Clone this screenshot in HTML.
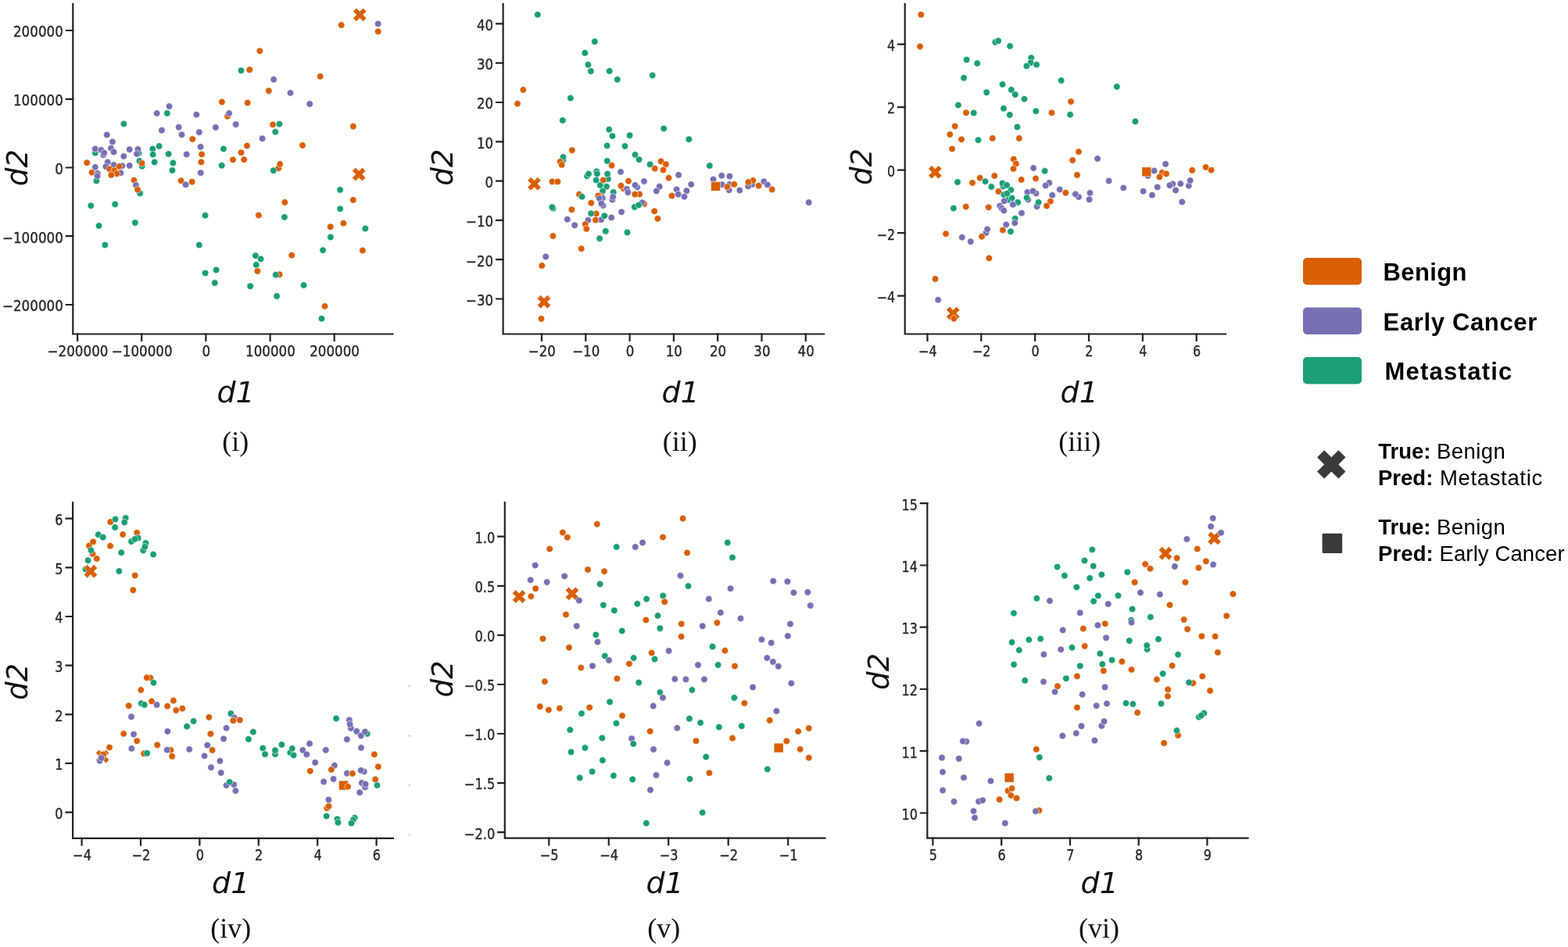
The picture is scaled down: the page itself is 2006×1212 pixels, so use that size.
<!DOCTYPE html>
<html lang="en"><head><meta charset="utf-8"><title>Embedding scatter plots</title>
<style>
html,body{margin:0;padding:0;background:#fff}
body{width:2006px;height:1212px;overflow:hidden}
svg{display:block}
.ax path{stroke:#222;stroke-width:2.2;fill:none;stroke-linecap:square}
.tk text{font-family:"DejaVu Sans","Liberation Sans",sans-serif;font-size:18.8px;fill:#262626;stroke:#262626;stroke-width:0.35px}
.al{font-family:"DejaVu Sans","Liberation Sans",sans-serif;font-style:italic;font-size:38px;fill:#111}
.a2{font-size:37px}
.cap{font-family:"Liberation Serif",serif;font-size:36px;fill:#111}
.pt circle,.pt rect,.pt path{stroke:#fff;stroke-width:0.6}
.lg text{font-family:"Liberation Sans",sans-serif;fill:#000}
.lg .b{font-weight:700}
</style></head>
<body>
<svg width="2006" height="1212" viewBox="0 0 2006 1212">
<g id="p1">
<g class="ax">
<path d="M93.3,5 V427.5 H502.5"/>
<path d="M93.3,39 h-8.5M93.3,126.8 h-8.5M93.3,214.5 h-8.5M93.3,302.2 h-8.5M93.3,390 h-8.5M99.1,427.5 v8.5M181.2,427.5 v8.5M263.4,427.5 v8.5M345.6,427.5 v8.5M427.7,427.5 v8.5"/>
</g>
<g class="tk" text-anchor="end">
<text transform="translate(80.8,47.3) scale(0.89,1)">200000</text>
<text transform="translate(80.8,135.1) scale(0.89,1)">100000</text>
<text transform="translate(80.8,222.8) scale(0.89,1)">0</text>
<text transform="translate(80.8,310.6) scale(0.89,1)">−100000</text>
<text transform="translate(80.8,398.3) scale(0.89,1)">−200000</text>
</g>
<g class="tk" text-anchor="middle">
<text transform="translate(99.5,455.5) scale(0.89,1)">−200000</text>
<text transform="translate(181.7,455.5) scale(0.89,1)">−100000</text>
<text transform="translate(263.8,455.5) scale(0.89,1)">0</text>
<text transform="translate(345.9,455.5) scale(0.89,1)">100000</text>
<text transform="translate(428.1,455.5) scale(0.89,1)">200000</text>
</g>
<text class="al" text-anchor="middle" x="301.6" y="515.2">d1</text>
<text class="al a2" text-anchor="middle" transform="translate(34.8,214.8) rotate(-90)">d2</text>
<text class="cap" text-anchor="middle" x="301.3" y="576.8">(i)</text>
<g class="pt">
<circle cx="283.9" cy="130.5" r="4.25" fill="#d95f02"/>
<circle cx="216.5" cy="136.1" r="4.25" fill="#7570b3"/>
<circle cx="200.7" cy="145" r="4.25" fill="#7570b3"/>
<circle cx="213.8" cy="144.9" r="4.25" fill="#1b9e77"/>
<circle cx="251.4" cy="146.7" r="4.25" fill="#7570b3"/>
<circle cx="291.1" cy="148.8" r="4.25" fill="#d95f02"/>
<circle cx="293.1" cy="145" r="4.25" fill="#7570b3"/>
<circle cx="158.4" cy="158.5" r="4.25" fill="#1b9e77"/>
<circle cx="301.7" cy="159.2" r="4.25" fill="#7570b3"/>
<circle cx="228.7" cy="162.8" r="4.25" fill="#7570b3"/>
<circle cx="275.9" cy="163" r="4.25" fill="#7570b3"/>
<circle cx="206.9" cy="166.8" r="4.25" fill="#7570b3"/>
<circle cx="254.8" cy="169.2" r="4.25" fill="#7570b3"/>
<circle cx="232.5" cy="172.3" r="4.25" fill="#7570b3"/>
<circle cx="136.7" cy="172.6" r="4.25" fill="#7570b3"/>
<circle cx="246.3" cy="178.1" r="4.25" fill="#d95f02"/>
<circle cx="143.9" cy="181.5" r="4.25" fill="#7570b3"/>
<circle cx="203.6" cy="187.1" r="4.25" fill="#1b9e77"/>
<circle cx="256.6" cy="187.9" r="4.25" fill="#7570b3"/>
<circle cx="121.8" cy="195.7" r="4.25" fill="#1b9e77"/>
<circle cx="121.8" cy="190.6" r="4.25" fill="#7570b3"/>
<circle cx="129.4" cy="191.9" r="4.25" fill="#7570b3"/>
<circle cx="132.3" cy="198.2" r="4.25" fill="#7570b3"/>
<circle cx="133.2" cy="195.7" r="4.25" fill="#7570b3"/>
<circle cx="142.1" cy="189.7" r="4.25" fill="#7570b3"/>
<circle cx="145.5" cy="194.4" r="4.25" fill="#7570b3"/>
<circle cx="165.7" cy="191.3" r="4.25" fill="#7570b3"/>
<circle cx="177.5" cy="196" r="4.25" fill="#1b9e77"/>
<circle cx="176.4" cy="191.1" r="4.25" fill="#7570b3"/>
<circle cx="175" cy="196.9" r="4.25" fill="#7570b3"/>
<circle cx="195.3" cy="190.6" r="4.25" fill="#1b9e77"/>
<circle cx="195.6" cy="197.7" r="4.25" fill="#1b9e77"/>
<circle cx="215.6" cy="197.1" r="4.25" fill="#1b9e77"/>
<circle cx="238.7" cy="197.5" r="4.25" fill="#7570b3"/>
<circle cx="258.1" cy="197.5" r="4.25" fill="#d95f02"/>
<circle cx="286" cy="190.6" r="4.25" fill="#1b9e77"/>
<circle cx="158.3" cy="200" r="4.25" fill="#7570b3"/>
<path transform="translate(460.3,18.9)" d="M-4.3,-8.7 0,-4.3 4.3,-8.7 8.7,-4.3 4.3,0 8.7,4.3 4.3,8.7 0,4.3 -4.3,8.7 -8.7,4.3 -4.3,0 -8.7,-4.3Z" fill="#d95f02"/>
<circle cx="436.7" cy="32.1" r="4.25" fill="#d95f02"/>
<circle cx="483.7" cy="30.5" r="4.25" fill="#7570b3"/>
<circle cx="483.7" cy="40.3" r="4.25" fill="#d95f02"/>
<circle cx="332.3" cy="65.2" r="4.25" fill="#d95f02"/>
<circle cx="319.3" cy="89.3" r="4.25" fill="#d95f02"/>
<circle cx="308.5" cy="90.2" r="4.25" fill="#1b9e77"/>
<circle cx="409.7" cy="97.8" r="4.25" fill="#d95f02"/>
<circle cx="350.1" cy="101.7" r="4.25" fill="#7570b3"/>
<circle cx="343.8" cy="116.2" r="4.25" fill="#d95f02"/>
<circle cx="371.5" cy="118.9" r="4.25" fill="#7570b3"/>
<circle cx="316.7" cy="131.6" r="4.25" fill="#d95f02"/>
<circle cx="396.2" cy="133.1" r="4.25" fill="#7570b3"/>
<circle cx="349" cy="159.4" r="4.25" fill="#d95f02"/>
<circle cx="357.4" cy="158.8" r="4.25" fill="#1b9e77"/>
<circle cx="352.3" cy="168.8" r="4.25" fill="#1b9e77"/>
<circle cx="451.9" cy="161.7" r="4.25" fill="#d95f02"/>
<circle cx="335.6" cy="177.3" r="4.25" fill="#7570b3"/>
<circle cx="316" cy="186.6" r="4.25" fill="#d95f02"/>
<circle cx="387" cy="186.1" r="4.25" fill="#d95f02"/>
<circle cx="308.5" cy="195.3" r="4.25" fill="#d95f02"/>
<circle cx="111.2" cy="208.3" r="4.25" fill="#d95f02"/>
<circle cx="137.7" cy="207.6" r="4.25" fill="#7570b3"/>
<circle cx="145.5" cy="211.1" r="4.25" fill="#7570b3"/>
<circle cx="121.8" cy="214" r="4.25" fill="#7570b3"/>
<circle cx="135.4" cy="213.3" r="4.25" fill="#7570b3"/>
<circle cx="156.3" cy="212.3" r="4.25" fill="#7570b3"/>
<circle cx="165.7" cy="212" r="4.25" fill="#7570b3"/>
<circle cx="152.6" cy="212.9" r="4.25" fill="#d95f02"/>
<circle cx="140.1" cy="216.3" r="4.25" fill="#d95f02"/>
<circle cx="154.4" cy="221.2" r="4.25" fill="#7570b3"/>
<circle cx="146.3" cy="218.2" r="4.25" fill="#d95f02"/>
<circle cx="149.4" cy="222.3" r="4.25" fill="#d95f02"/>
<circle cx="142.3" cy="224" r="4.25" fill="#d95f02"/>
<circle cx="117.6" cy="220.7" r="4.25" fill="#d95f02"/>
<circle cx="123.4" cy="231.4" r="4.25" fill="#1b9e77"/>
<circle cx="124.9" cy="222.1" r="4.25" fill="#7570b3"/>
<circle cx="124.5" cy="225.2" r="4.25" fill="#7570b3"/>
<circle cx="178.4" cy="206" r="4.25" fill="#1b9e77"/>
<circle cx="181.7" cy="212.7" r="4.25" fill="#1b9e77"/>
<circle cx="181.5" cy="209.1" r="4.25" fill="#d95f02"/>
<circle cx="197.6" cy="207.6" r="4.25" fill="#1b9e77"/>
<circle cx="221.4" cy="208.5" r="4.25" fill="#1b9e77"/>
<circle cx="220.5" cy="218" r="4.25" fill="#1b9e77"/>
<circle cx="257.4" cy="207.4" r="4.25" fill="#d95f02"/>
<circle cx="256.8" cy="221.2" r="4.25" fill="#7570b3"/>
<circle cx="283.7" cy="211.8" r="4.25" fill="#1b9e77"/>
<circle cx="298" cy="204.4" r="4.25" fill="#d95f02"/>
<circle cx="171.5" cy="230.7" r="4.25" fill="#d95f02"/>
<circle cx="179.1" cy="247.4" r="4.25" fill="#1b9e77"/>
<circle cx="174" cy="237" r="4.25" fill="#7570b3"/>
<circle cx="176" cy="242.7" r="4.25" fill="#d95f02"/>
<circle cx="231.6" cy="231.2" r="4.25" fill="#d95f02"/>
<circle cx="245.6" cy="232.7" r="4.25" fill="#d95f02"/>
<circle cx="237.6" cy="236.3" r="4.25" fill="#7570b3"/>
<circle cx="116.3" cy="263.3" r="4.25" fill="#1b9e77"/>
<circle cx="147.2" cy="261.4" r="4.25" fill="#1b9e77"/>
<circle cx="262.6" cy="275.7" r="4.25" fill="#1b9e77"/>
<circle cx="172.8" cy="285.1" r="4.25" fill="#1b9e77"/>
<circle cx="126.5" cy="288.9" r="4.25" fill="#1b9e77"/>
<circle cx="134.3" cy="313.6" r="4.25" fill="#1b9e77"/>
<circle cx="254.8" cy="313.6" r="4.25" fill="#1b9e77"/>
<circle cx="276.6" cy="345.6" r="4.25" fill="#1b9e77"/>
<circle cx="262.6" cy="349.4" r="4.25" fill="#1b9e77"/>
<circle cx="274.8" cy="362.1" r="4.25" fill="#1b9e77"/>
<circle cx="312.2" cy="204.2" r="4.25" fill="#d95f02"/>
<circle cx="356.3" cy="215.2" r="4.25" fill="#d95f02"/>
<circle cx="358.1" cy="210" r="4.25" fill="#d95f02"/>
<circle cx="349.8" cy="218.2" r="4.25" fill="#1b9e77"/>
<path transform="translate(459.2,223.1)" d="M-4.3,-8.7 0,-4.3 4.3,-8.7 8.7,-4.3 4.3,0 8.7,4.3 4.3,8.7 0,4.3 -4.3,8.7 -8.7,4.3 -4.3,0 -8.7,-4.3Z" fill="#d95f02"/>
<circle cx="435.1" cy="243" r="4.25" fill="#1b9e77"/>
<circle cx="451.8" cy="255.9" r="4.25" fill="#d95f02"/>
<circle cx="364.3" cy="259" r="4.25" fill="#d95f02"/>
<circle cx="435.2" cy="267.3" r="4.25" fill="#1b9e77"/>
<circle cx="330.9" cy="275.5" r="4.25" fill="#d95f02"/>
<circle cx="363.9" cy="277.9" r="4.25" fill="#1b9e77"/>
<circle cx="439.4" cy="285.7" r="4.25" fill="#d95f02"/>
<circle cx="422.7" cy="290.2" r="4.25" fill="#d95f02"/>
<circle cx="467.4" cy="292.6" r="4.25" fill="#1b9e77"/>
<circle cx="422.9" cy="303.5" r="4.25" fill="#1b9e77"/>
<circle cx="413.1" cy="320.3" r="4.25" fill="#1b9e77"/>
<circle cx="463.9" cy="320.5" r="4.25" fill="#d95f02"/>
<circle cx="373.2" cy="326.7" r="4.25" fill="#d95f02"/>
<circle cx="326.9" cy="327.2" r="4.25" fill="#1b9e77"/>
<circle cx="333.6" cy="331.4" r="4.25" fill="#1b9e77"/>
<circle cx="327.8" cy="338.9" r="4.25" fill="#1b9e77"/>
<circle cx="329.4" cy="347" r="4.25" fill="#d95f02"/>
<circle cx="357.6" cy="351.2" r="4.25" fill="#d95f02"/>
<circle cx="352.8" cy="351.7" r="4.25" fill="#1b9e77"/>
<circle cx="320.2" cy="366.3" r="4.25" fill="#1b9e77"/>
<circle cx="388.6" cy="365" r="4.25" fill="#1b9e77"/>
<circle cx="354.1" cy="379" r="4.25" fill="#1b9e77"/>
<circle cx="415.5" cy="391.9" r="4.25" fill="#d95f02"/>
<circle cx="411.5" cy="407.8" r="4.25" fill="#1b9e77"/>
</g>
</g>
<g id="p2">
<g class="ax">
<path d="M643.6,5 V427.5 H1054.1"/>
<path d="M643.6,30.4 h-8.5M643.6,80.7 h-8.5M643.6,131 h-8.5M643.6,181.3 h-8.5M643.6,231.6 h-8.5M643.6,281.9 h-8.5M643.6,332.2 h-8.5M643.6,382.5 h-8.5M693,427.5 v8.5M749.3,427.5 v8.5M805.6,427.5 v8.5M861.9,427.5 v8.5M918.2,427.5 v8.5M974.5,427.5 v8.5M1030.8,427.5 v8.5"/>
</g>
<g class="tk" text-anchor="end">
<text transform="translate(631.1,38.7) scale(0.885,1)">40</text>
<text transform="translate(631.1,89) scale(0.885,1)">30</text>
<text transform="translate(631.1,139.3) scale(0.885,1)">20</text>
<text transform="translate(631.1,189.6) scale(0.885,1)">10</text>
<text transform="translate(631.1,239.9) scale(0.885,1)">0</text>
<text transform="translate(631.1,290.2) scale(0.885,1)">−10</text>
<text transform="translate(631.1,340.5) scale(0.885,1)">−20</text>
<text transform="translate(631.1,390.8) scale(0.885,1)">−30</text>
</g>
<g class="tk" text-anchor="middle">
<text transform="translate(693.4,455.5) scale(0.885,1)">−20</text>
<text transform="translate(749.7,455.5) scale(0.885,1)">−10</text>
<text transform="translate(806,455.5) scale(0.885,1)">0</text>
<text transform="translate(862.3,455.5) scale(0.885,1)">10</text>
<text transform="translate(918.6,455.5) scale(0.885,1)">20</text>
<text transform="translate(974.9,455.5) scale(0.885,1)">30</text>
<text transform="translate(1031.2,455.5) scale(0.885,1)">40</text>
</g>
<text class="al" text-anchor="middle" x="870.6" y="515.2">d1</text>
<text class="al a2" text-anchor="middle" transform="translate(578.8,214.3) rotate(-90)">d2</text>
<text class="cap" text-anchor="middle" x="869.8" y="576.8">(ii)</text>
<g class="pt">
<circle cx="687.8" cy="18.7" r="4.25" fill="#1b9e77"/>
<circle cx="760.8" cy="53.2" r="4.25" fill="#1b9e77"/>
<circle cx="748.3" cy="67.7" r="4.25" fill="#1b9e77"/>
<circle cx="752.4" cy="82.8" r="4.25" fill="#1b9e77"/>
<circle cx="755.9" cy="91.1" r="4.25" fill="#1b9e77"/>
<circle cx="779.7" cy="90.9" r="4.25" fill="#1b9e77"/>
<circle cx="789.8" cy="101.7" r="4.25" fill="#1b9e77"/>
<circle cx="834.7" cy="96.4" r="4.25" fill="#1b9e77"/>
<circle cx="669.3" cy="114.9" r="4.25" fill="#d95f02"/>
<circle cx="662" cy="132.7" r="4.25" fill="#d95f02"/>
<circle cx="729.9" cy="125.6" r="4.25" fill="#1b9e77"/>
<circle cx="719.8" cy="154.1" r="4.25" fill="#1b9e77"/>
<circle cx="779.3" cy="165.7" r="4.25" fill="#1b9e77"/>
<circle cx="783.5" cy="174.1" r="4.25" fill="#1b9e77"/>
<circle cx="805.6" cy="173.3" r="4.25" fill="#1b9e77"/>
<circle cx="849.2" cy="164.6" r="4.25" fill="#1b9e77"/>
<circle cx="776.6" cy="186.4" r="4.25" fill="#1b9e77"/>
<circle cx="799.5" cy="187.1" r="4.25" fill="#1b9e77"/>
<circle cx="731.9" cy="192.2" r="4.25" fill="#d95f02"/>
<circle cx="812.5" cy="198" r="4.25" fill="#1b9e77"/>
<circle cx="817.6" cy="204.2" r="4.25" fill="#1b9e77"/>
<circle cx="720.3" cy="205.1" r="4.25" fill="#1b9e77"/>
<circle cx="720.5" cy="201.1" r="4.25" fill="#1b9e77"/>
<circle cx="716.7" cy="206.9" r="4.25" fill="#d95f02"/>
<circle cx="776.8" cy="206" r="4.25" fill="#1b9e77"/>
<circle cx="845.6" cy="206.4" r="4.25" fill="#d95f02"/>
<circle cx="718.7" cy="211" r="4.25" fill="#d95f02"/>
<circle cx="782.6" cy="211.7" r="4.25" fill="#d95f02"/>
<circle cx="831.6" cy="210.4" r="4.25" fill="#1b9e77"/>
<circle cx="851.9" cy="210.3" r="4.25" fill="#d95f02"/>
<circle cx="837.8" cy="215.7" r="4.25" fill="#d95f02"/>
<circle cx="848.5" cy="217.5" r="4.25" fill="#d95f02"/>
<circle cx="794" cy="219.9" r="4.25" fill="#7570b3"/>
<circle cx="751.2" cy="225.3" r="4.25" fill="#1b9e77"/>
<circle cx="753" cy="222.6" r="4.25" fill="#1b9e77"/>
<circle cx="763.3" cy="219.5" r="4.25" fill="#1b9e77"/>
<circle cx="763.9" cy="222.6" r="4.25" fill="#1b9e77"/>
<circle cx="777.9" cy="229.1" r="4.25" fill="#1b9e77"/>
<circle cx="777.1" cy="222.6" r="4.25" fill="#1b9e77"/>
<circle cx="762.6" cy="230.6" r="4.25" fill="#1b9e77"/>
<circle cx="771.7" cy="230.6" r="4.25" fill="#d95f02"/>
<circle cx="767.9" cy="237.1" r="4.25" fill="#1b9e77"/>
<circle cx="776" cy="238.8" r="4.25" fill="#1b9e77"/>
<circle cx="771.1" cy="244.6" r="4.25" fill="#1b9e77"/>
<circle cx="784.8" cy="246" r="4.25" fill="#1b9e77"/>
<path transform="translate(683.5,235.3)" d="M-4.3,-8.7 0,-4.3 4.3,-8.7 8.7,-4.3 4.3,0 8.7,4.3 4.3,8.7 0,4.3 -4.3,8.7 -8.7,4.3 -4.3,0 -8.7,-4.3Z" fill="#d95f02"/>
<circle cx="706.5" cy="232.4" r="4.25" fill="#d95f02"/>
<circle cx="713.4" cy="232.6" r="4.25" fill="#d95f02"/>
<circle cx="804" cy="231.7" r="4.25" fill="#d95f02"/>
<circle cx="824" cy="232" r="4.25" fill="#7570b3"/>
<circle cx="797.8" cy="241.5" r="4.25" fill="#d95f02"/>
<circle cx="794.4" cy="237.7" r="4.25" fill="#d95f02"/>
<circle cx="815.2" cy="239.5" r="4.25" fill="#7570b3"/>
<circle cx="812.5" cy="236.9" r="4.25" fill="#7570b3"/>
<circle cx="802" cy="242" r="4.25" fill="#7570b3"/>
<circle cx="803.4" cy="246.2" r="4.25" fill="#7570b3"/>
<circle cx="818" cy="248.6" r="4.25" fill="#d95f02"/>
<circle cx="812.2" cy="248.7" r="4.25" fill="#d95f02"/>
<circle cx="843.6" cy="238.8" r="4.25" fill="#7570b3"/>
<circle cx="839.8" cy="244.6" r="4.25" fill="#7570b3"/>
<circle cx="741" cy="248.7" r="4.25" fill="#d95f02"/>
<circle cx="744.6" cy="251.7" r="4.25" fill="#1b9e77"/>
<circle cx="769.3" cy="251.3" r="4.25" fill="#d95f02"/>
<circle cx="765.3" cy="250.4" r="4.25" fill="#d95f02"/>
<circle cx="770.8" cy="253.6" r="4.25" fill="#7570b3"/>
<circle cx="766.8" cy="254" r="4.25" fill="#7570b3"/>
<circle cx="783.5" cy="255.6" r="4.25" fill="#7570b3"/>
<circle cx="784.2" cy="252" r="4.25" fill="#7570b3"/>
<circle cx="756.3" cy="259.8" r="4.25" fill="#d95f02"/>
<circle cx="771.5" cy="263.1" r="4.25" fill="#7570b3"/>
<circle cx="769.3" cy="260.5" r="4.25" fill="#7570b3"/>
<circle cx="824.1" cy="260.9" r="4.25" fill="#d95f02"/>
<circle cx="821.6" cy="259.3" r="4.25" fill="#7570b3"/>
<circle cx="811.8" cy="264.9" r="4.25" fill="#1b9e77"/>
<circle cx="817.1" cy="262.4" r="4.25" fill="#1b9e77"/>
<circle cx="707.6" cy="266.7" r="4.25" fill="#1b9e77"/>
<circle cx="706.3" cy="265.1" r="4.25" fill="#1b9e77"/>
<circle cx="731.4" cy="268.3" r="4.25" fill="#d95f02"/>
<circle cx="795.1" cy="271.3" r="4.25" fill="#7570b3"/>
<circle cx="837.2" cy="270.3" r="4.25" fill="#d95f02"/>
<circle cx="841.4" cy="279.8" r="4.25" fill="#d95f02"/>
<circle cx="762.8" cy="273.4" r="4.25" fill="#d95f02"/>
<circle cx="756.1" cy="273.3" r="4.25" fill="#1b9e77"/>
<circle cx="769" cy="281.2" r="4.25" fill="#7570b3"/>
<circle cx="773.3" cy="276.3" r="4.25" fill="#1b9e77"/>
<circle cx="782.2" cy="278.5" r="4.25" fill="#7570b3"/>
<circle cx="761.9" cy="281.6" r="4.25" fill="#d95f02"/>
<circle cx="752.4" cy="281.8" r="4.25" fill="#7570b3"/>
<circle cx="725.8" cy="280.7" r="4.25" fill="#7570b3"/>
<circle cx="735.2" cy="288.3" r="4.25" fill="#7570b3"/>
<circle cx="748.8" cy="286.9" r="4.25" fill="#d95f02"/>
<circle cx="750.3" cy="292.9" r="4.25" fill="#d95f02"/>
<circle cx="774.8" cy="295.9" r="4.25" fill="#1b9e77"/>
<circle cx="802.5" cy="297.4" r="4.25" fill="#1b9e77"/>
<circle cx="767.1" cy="305.2" r="4.25" fill="#1b9e77"/>
<circle cx="707.4" cy="302.1" r="4.25" fill="#d95f02"/>
<circle cx="743.7" cy="318.3" r="4.25" fill="#d95f02"/>
<circle cx="698.2" cy="328.6" r="4.25" fill="#7570b3"/>
<circle cx="693.3" cy="339.9" r="4.25" fill="#d95f02"/>
<path transform="translate(696,386.3)" d="M-4.3,-8.7 0,-4.3 4.3,-8.7 8.7,-4.3 4.3,0 8.7,4.3 4.3,8.7 0,4.3 -4.3,8.7 -8.7,4.3 -4.3,0 -8.7,-4.3Z" fill="#d95f02"/>
<circle cx="692.5" cy="407.9" r="4.25" fill="#d95f02"/>
<circle cx="881.3" cy="178.3" r="4.25" fill="#1b9e77"/>
<circle cx="907.8" cy="212.1" r="4.25" fill="#1b9e77"/>
<circle cx="855.5" cy="227.7" r="4.25" fill="#d95f02"/>
<circle cx="868.1" cy="223.9" r="4.25" fill="#7570b3"/>
<circle cx="884.2" cy="236" r="4.25" fill="#7570b3"/>
<circle cx="865.7" cy="242.6" r="4.25" fill="#7570b3"/>
<circle cx="878.4" cy="244.2" r="4.25" fill="#7570b3"/>
<circle cx="867.7" cy="248.7" r="4.25" fill="#7570b3"/>
<circle cx="859.5" cy="250.6" r="4.25" fill="#d95f02"/>
<circle cx="875.5" cy="251.8" r="4.25" fill="#7570b3"/>
<circle cx="912.5" cy="229.5" r="4.25" fill="#7570b3"/>
<circle cx="923.3" cy="224.8" r="4.25" fill="#7570b3"/>
<circle cx="933.4" cy="225.5" r="4.25" fill="#7570b3"/>
<circle cx="923.6" cy="236.2" r="4.25" fill="#7570b3"/>
<circle cx="933.4" cy="235.9" r="4.25" fill="#7570b3"/>
<rect x="909.6" y="232.4" width="12" height="12" fill="#d95f02"/>
<circle cx="939.2" cy="235.9" r="4.25" fill="#d95f02"/>
<circle cx="932.7" cy="243.3" r="4.25" fill="#7570b3"/>
<circle cx="930.3" cy="239.1" r="4.25" fill="#d95f02"/>
<circle cx="946.3" cy="243.5" r="4.25" fill="#7570b3"/>
<circle cx="962.5" cy="235.9" r="4.25" fill="#7570b3"/>
<circle cx="957.2" cy="238.4" r="4.25" fill="#7570b3"/>
<circle cx="963.4" cy="231" r="4.25" fill="#d95f02"/>
<circle cx="957.4" cy="233.1" r="4.25" fill="#d95f02"/>
<circle cx="970.6" cy="237.7" r="4.25" fill="#d95f02"/>
<circle cx="977.3" cy="232.2" r="4.25" fill="#7570b3"/>
<circle cx="981.9" cy="236.4" r="4.25" fill="#7570b3"/>
<circle cx="987.7" cy="242.4" r="4.25" fill="#d95f02"/>
<circle cx="1034.7" cy="259.1" r="4.25" fill="#7570b3"/>
</g>
</g>
<g id="p3">
<g class="ax">
<path d="M1157.7,5 V427.5 H1568"/>
<path d="M1157.7,56.6 h-8.5M1157.7,137.1 h-8.5M1157.7,217.6 h-8.5M1157.7,298.2 h-8.5M1157.7,378.7 h-8.5M1186.5,427.5 v8.5M1255.3,427.5 v8.5M1324.2,427.5 v8.5M1393,427.5 v8.5M1461.9,427.5 v8.5M1530.7,427.5 v8.5"/>
</g>
<g class="tk" text-anchor="end">
<text transform="translate(1145.2,64.9) scale(0.85,1)">4</text>
<text transform="translate(1145.2,145.4) scale(0.85,1)">2</text>
<text transform="translate(1145.2,225.9) scale(0.85,1)">0</text>
<text transform="translate(1145.2,306.5) scale(0.85,1)">−2</text>
<text transform="translate(1145.2,387) scale(0.85,1)">−4</text>
</g>
<g class="tk" text-anchor="middle">
<text transform="translate(1186.9,455.5) scale(0.85,1)">−4</text>
<text transform="translate(1255.7,455.5) scale(0.85,1)">−2</text>
<text transform="translate(1324.6,455.5) scale(0.85,1)">0</text>
<text transform="translate(1393.4,455.5) scale(0.85,1)">2</text>
<text transform="translate(1462.3,455.5) scale(0.85,1)">4</text>
<text transform="translate(1531.1,455.5) scale(0.85,1)">6</text>
</g>
<text class="al" text-anchor="middle" x="1380.7" y="515.2">d1</text>
<text class="al a2" text-anchor="middle" transform="translate(1114.7,213.5) rotate(-90)">d2</text>
<text class="cap" text-anchor="middle" x="1381.3" y="576.8">(iii)</text>
<g class="pt">
<circle cx="1178.3" cy="18.7" r="4.25" fill="#d95f02"/>
<circle cx="1177" cy="59.5" r="4.25" fill="#d95f02"/>
<circle cx="1273.3" cy="53.9" r="4.25" fill="#1b9e77"/>
<circle cx="1277.1" cy="52.3" r="4.25" fill="#1b9e77"/>
<circle cx="1292.1" cy="59" r="4.25" fill="#1b9e77"/>
<circle cx="1236.6" cy="76.4" r="4.25" fill="#1b9e77"/>
<circle cx="1250.2" cy="81" r="4.25" fill="#1b9e77"/>
<circle cx="1319.2" cy="74.1" r="4.25" fill="#1b9e77"/>
<circle cx="1318.6" cy="80.2" r="4.25" fill="#1b9e77"/>
<circle cx="1326.1" cy="82.8" r="4.25" fill="#1b9e77"/>
<circle cx="1313.4" cy="84.6" r="4.25" fill="#1b9e77"/>
<circle cx="1233" cy="99.7" r="4.25" fill="#1b9e77"/>
<circle cx="1357.7" cy="103.1" r="4.25" fill="#1b9e77"/>
<circle cx="1282.5" cy="108" r="4.25" fill="#1b9e77"/>
<circle cx="1293.8" cy="114.9" r="4.25" fill="#1b9e77"/>
<circle cx="1262.2" cy="118.3" r="4.25" fill="#1b9e77"/>
<circle cx="1298.8" cy="121.1" r="4.25" fill="#1b9e77"/>
<circle cx="1310.5" cy="126.7" r="4.25" fill="#1b9e77"/>
<circle cx="1225.9" cy="134.5" r="4.25" fill="#1b9e77"/>
<circle cx="1284" cy="138.7" r="4.25" fill="#1b9e77"/>
<circle cx="1236" cy="144.3" r="4.25" fill="#d95f02"/>
<circle cx="1245.7" cy="144.5" r="4.25" fill="#1b9e77"/>
<circle cx="1291.8" cy="147" r="4.25" fill="#1b9e77"/>
<circle cx="1325.3" cy="142.3" r="4.25" fill="#1b9e77"/>
<circle cx="1345.5" cy="144.3" r="4.25" fill="#d95f02"/>
<circle cx="1221.7" cy="161.6" r="4.25" fill="#d95f02"/>
<circle cx="1301.4" cy="162.6" r="4.25" fill="#1b9e77"/>
<circle cx="1215.3" cy="172.1" r="4.25" fill="#d95f02"/>
<circle cx="1230" cy="178.4" r="4.25" fill="#d95f02"/>
<circle cx="1251.5" cy="179.2" r="4.25" fill="#1b9e77"/>
<circle cx="1269.8" cy="177" r="4.25" fill="#d95f02"/>
<circle cx="1303.9" cy="177" r="4.25" fill="#d95f02"/>
<circle cx="1218.1" cy="190.6" r="4.25" fill="#d95f02"/>
<circle cx="1296.8" cy="203.7" r="4.25" fill="#d95f02"/>
<circle cx="1299.8" cy="209.5" r="4.25" fill="#d95f02"/>
<circle cx="1296.5" cy="215.9" r="4.25" fill="#d95f02"/>
<circle cx="1322.1" cy="215" r="4.25" fill="#7570b3"/>
<circle cx="1336.6" cy="218.8" r="4.25" fill="#1b9e77"/>
<path transform="translate(1196.3,220.4)" d="M-4.3,-8.7 0,-4.3 4.3,-8.7 8.7,-4.3 4.3,0 8.7,4.3 4.3,8.7 0,4.3 -4.3,8.7 -8.7,4.3 -4.3,0 -8.7,-4.3Z" fill="#d95f02"/>
<circle cx="1272.3" cy="225" r="4.25" fill="#d95f02"/>
<circle cx="1253.6" cy="227.7" r="4.25" fill="#d95f02"/>
<circle cx="1306.7" cy="229.9" r="4.25" fill="#d95f02"/>
<circle cx="1325" cy="228.6" r="4.25" fill="#d95f02"/>
<circle cx="1225" cy="233.1" r="4.25" fill="#1b9e77"/>
<circle cx="1244" cy="234" r="4.25" fill="#d95f02"/>
<circle cx="1260.5" cy="232.2" r="4.25" fill="#1b9e77"/>
<circle cx="1268.3" cy="238.9" r="4.25" fill="#1b9e77"/>
<circle cx="1283.4" cy="238.6" r="4.25" fill="#1b9e77"/>
<circle cx="1282.5" cy="234.6" r="4.25" fill="#1b9e77"/>
<circle cx="1288" cy="236.9" r="4.25" fill="#1b9e77"/>
<circle cx="1293.4" cy="243.1" r="4.25" fill="#1b9e77"/>
<circle cx="1277.4" cy="245.1" r="4.25" fill="#d95f02"/>
<circle cx="1284.3" cy="249.1" r="4.25" fill="#1b9e77"/>
<circle cx="1288.3" cy="247.7" r="4.25" fill="#1b9e77"/>
<circle cx="1289.8" cy="255.8" r="4.25" fill="#1b9e77"/>
<circle cx="1294.7" cy="253.6" r="4.25" fill="#1b9e77"/>
<circle cx="1302.1" cy="258.9" r="4.25" fill="#1b9e77"/>
<circle cx="1284.7" cy="257.3" r="4.25" fill="#7570b3"/>
<circle cx="1295.8" cy="261.8" r="4.25" fill="#7570b3"/>
<circle cx="1279.2" cy="263.4" r="4.25" fill="#7570b3"/>
<circle cx="1281.6" cy="266.7" r="4.25" fill="#7570b3"/>
<circle cx="1284.3" cy="269.6" r="4.25" fill="#7570b3"/>
<circle cx="1342.4" cy="234" r="4.25" fill="#7570b3"/>
<circle cx="1337.7" cy="237.5" r="4.25" fill="#7570b3"/>
<circle cx="1355.7" cy="242.6" r="4.25" fill="#7570b3"/>
<circle cx="1363.3" cy="246.7" r="4.25" fill="#d95f02"/>
<circle cx="1314.3" cy="246" r="4.25" fill="#7570b3"/>
<circle cx="1325.5" cy="247.5" r="4.25" fill="#7570b3"/>
<circle cx="1321.5" cy="244.6" r="4.25" fill="#7570b3"/>
<circle cx="1346.2" cy="249.8" r="4.25" fill="#7570b3"/>
<circle cx="1315.2" cy="255.5" r="4.25" fill="#7570b3"/>
<circle cx="1313.5" cy="253.1" r="4.25" fill="#1b9e77"/>
<circle cx="1326.6" cy="264.2" r="4.25" fill="#7570b3"/>
<circle cx="1328.6" cy="258.9" r="4.25" fill="#1b9e77"/>
<circle cx="1343.9" cy="257.8" r="4.25" fill="#d95f02"/>
<circle cx="1339.1" cy="263.6" r="4.25" fill="#d95f02"/>
<circle cx="1219.9" cy="266.5" r="4.25" fill="#1b9e77"/>
<circle cx="1235.7" cy="264.5" r="4.25" fill="#d95f02"/>
<circle cx="1264.7" cy="265.3" r="4.25" fill="#d95f02"/>
<circle cx="1307" cy="272.7" r="4.25" fill="#7570b3"/>
<circle cx="1298.7" cy="279.8" r="4.25" fill="#1b9e77"/>
<circle cx="1298.3" cy="285.2" r="4.25" fill="#7570b3"/>
<circle cx="1287.2" cy="287.6" r="4.25" fill="#7570b3"/>
<circle cx="1282.9" cy="294.5" r="4.25" fill="#d95f02"/>
<circle cx="1292.9" cy="296.3" r="4.25" fill="#1b9e77"/>
<circle cx="1261.5" cy="297.9" r="4.25" fill="#7570b3"/>
<circle cx="1263.1" cy="293.4" r="4.25" fill="#7570b3"/>
<circle cx="1256" cy="302.7" r="4.25" fill="#d95f02"/>
<circle cx="1210.1" cy="299.2" r="4.25" fill="#d95f02"/>
<circle cx="1230.8" cy="303.7" r="4.25" fill="#7570b3"/>
<circle cx="1241.8" cy="309.2" r="4.25" fill="#7570b3"/>
<circle cx="1265.3" cy="330.4" r="4.25" fill="#d95f02"/>
<circle cx="1196.5" cy="356.9" r="4.25" fill="#d95f02"/>
<circle cx="1200.1" cy="383.8" r="4.25" fill="#7570b3"/>
<path transform="translate(1219.3,401)" d="M-4.3,-8.7 0,-4.3 4.3,-8.7 8.7,-4.3 4.3,0 8.7,4.3 4.3,8.7 0,4.3 -4.3,8.7 -8.7,4.3 -4.3,0 -8.7,-4.3Z" fill="#d95f02"/>
<circle cx="1220.4" cy="407.8" r="4.25" fill="#d95f02"/>
<circle cx="1428.8" cy="110.9" r="4.25" fill="#1b9e77"/>
<circle cx="1370" cy="130.1" r="4.25" fill="#d95f02"/>
<circle cx="1369.1" cy="146.7" r="4.25" fill="#1b9e77"/>
<circle cx="1452.4" cy="155.4" r="4.25" fill="#1b9e77"/>
<circle cx="1380" cy="194.2" r="4.25" fill="#d95f02"/>
<circle cx="1372.2" cy="205.1" r="4.25" fill="#d95f02"/>
<circle cx="1404.1" cy="203.1" r="4.25" fill="#7570b3"/>
<circle cx="1491.1" cy="209.9" r="4.25" fill="#7570b3"/>
<circle cx="1468.6" cy="225" r="4.25" fill="#7570b3"/>
<circle cx="1476.6" cy="218.6" r="4.25" fill="#7570b3"/>
<rect x="1460.9" y="213.9" width="12" height="12" fill="#d95f02"/>
<circle cx="1486.7" cy="221" r="4.25" fill="#d95f02"/>
<circle cx="1492" cy="222.4" r="4.25" fill="#d95f02"/>
<circle cx="1483.4" cy="226.4" r="4.25" fill="#d95f02"/>
<circle cx="1525.2" cy="217.9" r="4.25" fill="#d95f02"/>
<circle cx="1542.6" cy="214.1" r="4.25" fill="#d95f02"/>
<circle cx="1549.7" cy="217.7" r="4.25" fill="#d95f02"/>
<circle cx="1378" cy="223.9" r="4.25" fill="#d95f02"/>
<circle cx="1418.6" cy="231.5" r="4.25" fill="#7570b3"/>
<circle cx="1437.3" cy="240.4" r="4.25" fill="#7570b3"/>
<circle cx="1520.8" cy="237.7" r="4.25" fill="#7570b3"/>
<circle cx="1522.7" cy="231" r="4.25" fill="#7570b3"/>
<circle cx="1510.3" cy="235.1" r="4.25" fill="#7570b3"/>
<circle cx="1500.3" cy="235.5" r="4.25" fill="#7570b3"/>
<circle cx="1496.5" cy="237.3" r="4.25" fill="#7570b3"/>
<circle cx="1504.1" cy="243.5" r="4.25" fill="#7570b3"/>
<circle cx="1480.7" cy="239.5" r="4.25" fill="#7570b3"/>
<circle cx="1462.6" cy="244.8" r="4.25" fill="#7570b3"/>
<circle cx="1474" cy="249.7" r="4.25" fill="#7570b3"/>
<circle cx="1512.3" cy="258.5" r="4.25" fill="#7570b3"/>
<circle cx="1394.5" cy="246.9" r="4.25" fill="#7570b3"/>
<circle cx="1380" cy="252" r="4.25" fill="#7570b3"/>
<circle cx="1375.8" cy="248.4" r="4.25" fill="#7570b3"/>
<circle cx="1393.6" cy="255.3" r="4.25" fill="#7570b3"/>
</g>
</g>
<g id="p4">
<g class="ax">
<path d="M93.1,643 V1072.8 H502.9"/>
<path d="M93.1,663.7 h-8.5M93.1,726.4 h-8.5M93.1,789 h-8.5M93.1,851.6 h-8.5M93.1,914.3 h-8.5M93.1,976.9 h-8.5M93.1,1039.6 h-8.5M104.6,1072.8 v8.5M180,1072.8 v8.5M255.4,1072.8 v8.5M330.8,1072.8 v8.5M406.2,1072.8 v8.5M481.6,1072.8 v8.5"/>
</g>
<g class="tk" text-anchor="end">
<text transform="translate(80.6,672) scale(0.86,1)">6</text>
<text transform="translate(80.6,734.6) scale(0.86,1)">5</text>
<text transform="translate(80.6,797.3) scale(0.86,1)">4</text>
<text transform="translate(80.6,859.9) scale(0.86,1)">3</text>
<text transform="translate(80.6,922.6) scale(0.86,1)">2</text>
<text transform="translate(80.6,985.2) scale(0.86,1)">1</text>
<text transform="translate(80.6,1047.9) scale(0.86,1)">0</text>
</g>
<g class="tk" text-anchor="middle">
<text transform="translate(105,1100.8) scale(0.86,1)">−4</text>
<text transform="translate(180.4,1100.8) scale(0.86,1)">−2</text>
<text transform="translate(255.8,1100.8) scale(0.86,1)">0</text>
<text transform="translate(331.2,1100.8) scale(0.86,1)">2</text>
<text transform="translate(406.6,1100.8) scale(0.86,1)">4</text>
<text transform="translate(482,1100.8) scale(0.86,1)">6</text>
</g>
<text class="al" text-anchor="middle" x="295.2" y="1143.4">d1</text>
<text class="al a2" text-anchor="middle" transform="translate(34.8,872.5) rotate(-90)">d2</text>
<text class="cap" text-anchor="middle" x="295.2" y="1200">(iv)</text>
<g class="pt">
<circle cx="141.3" cy="667.9" r="4.25" fill="#d95f02"/>
<circle cx="147.6" cy="664.6" r="4.25" fill="#1b9e77"/>
<circle cx="160.7" cy="663.1" r="4.25" fill="#1b9e77"/>
<circle cx="159.2" cy="668.6" r="4.25" fill="#1b9e77"/>
<circle cx="147.1" cy="674.9" r="4.25" fill="#1b9e77"/>
<circle cx="125.7" cy="684.2" r="4.25" fill="#1b9e77"/>
<circle cx="131.7" cy="687.6" r="4.25" fill="#1b9e77"/>
<circle cx="157.1" cy="684" r="4.25" fill="#d95f02"/>
<circle cx="175.2" cy="681.8" r="4.25" fill="#d95f02"/>
<circle cx="176.7" cy="688.5" r="4.25" fill="#1b9e77"/>
<circle cx="168" cy="693.1" r="4.25" fill="#1b9e77"/>
<circle cx="172.5" cy="690" r="4.25" fill="#1b9e77"/>
<circle cx="114" cy="698.5" r="4.25" fill="#d95f02"/>
<circle cx="119.1" cy="693.4" r="4.25" fill="#d95f02"/>
<circle cx="141.1" cy="698.7" r="4.25" fill="#d95f02"/>
<circle cx="186.5" cy="695.1" r="4.25" fill="#1b9e77"/>
<circle cx="183.2" cy="704.5" r="4.25" fill="#1b9e77"/>
<circle cx="185.4" cy="699.8" r="4.25" fill="#1b9e77"/>
<circle cx="118.6" cy="708.9" r="4.25" fill="#d95f02"/>
<circle cx="116.4" cy="704.3" r="4.25" fill="#1b9e77"/>
<circle cx="155.2" cy="707.2" r="4.25" fill="#1b9e77"/>
<circle cx="196.1" cy="709.6" r="4.25" fill="#1b9e77"/>
<circle cx="123.8" cy="715" r="4.25" fill="#d95f02"/>
<circle cx="112.6" cy="717.2" r="4.25" fill="#1b9e77"/>
<circle cx="109.5" cy="728.5" r="4.25" fill="#1b9e77"/>
<path transform="translate(115.9,731.2)" d="M-4.3,-8.7 0,-4.3 4.3,-8.7 8.7,-4.3 4.3,0 8.7,4.3 4.3,8.7 0,4.3 -4.3,8.7 -8.7,4.3 -4.3,0 -8.7,-4.3Z" fill="#d95f02"/>
<circle cx="152.3" cy="731" r="4.25" fill="#1b9e77"/>
<circle cx="172.7" cy="736.5" r="4.25" fill="#d95f02"/>
<circle cx="170.3" cy="755.2" r="4.25" fill="#d95f02"/>
<circle cx="192.5" cy="867.7" r="4.25" fill="#d95f02"/>
<circle cx="187.9" cy="867.3" r="4.25" fill="#d95f02"/>
<circle cx="196.5" cy="873.7" r="4.25" fill="#1b9e77"/>
<circle cx="180.3" cy="883" r="4.25" fill="#d95f02"/>
<circle cx="194.1" cy="897.5" r="4.25" fill="#d95f02"/>
<circle cx="180.7" cy="900.2" r="4.25" fill="#1b9e77"/>
<circle cx="184.8" cy="902" r="4.25" fill="#1b9e77"/>
<circle cx="200.6" cy="902" r="4.25" fill="#7570b3"/>
<circle cx="164.7" cy="903.3" r="4.25" fill="#d95f02"/>
<circle cx="221.9" cy="896.7" r="4.25" fill="#d95f02"/>
<circle cx="214.1" cy="903.8" r="4.25" fill="#d95f02"/>
<circle cx="233.3" cy="906.7" r="4.25" fill="#d95f02"/>
<circle cx="225.3" cy="909.1" r="4.25" fill="#d95f02"/>
<circle cx="168" cy="917.3" r="4.25" fill="#7570b3"/>
<circle cx="295.4" cy="913.3" r="4.25" fill="#1b9e77"/>
<circle cx="299.7" cy="918.5" r="4.25" fill="#7570b3"/>
<circle cx="298.3" cy="922.2" r="4.25" fill="#d95f02"/>
<circle cx="267.4" cy="918" r="4.25" fill="#d95f02"/>
<circle cx="247.6" cy="922.9" r="4.25" fill="#1b9e77"/>
<circle cx="239.1" cy="929.8" r="4.25" fill="#1b9e77"/>
<circle cx="289.6" cy="931.8" r="4.25" fill="#7570b3"/>
<circle cx="214.4" cy="936.1" r="4.25" fill="#7570b3"/>
<circle cx="158.2" cy="939" r="4.25" fill="#d95f02"/>
<circle cx="171" cy="939.8" r="4.25" fill="#7570b3"/>
<circle cx="269.4" cy="939.2" r="4.25" fill="#d95f02"/>
<circle cx="286.1" cy="945.6" r="4.25" fill="#7570b3"/>
<circle cx="175.2" cy="948.3" r="4.25" fill="#d95f02"/>
<circle cx="201.2" cy="953.4" r="4.25" fill="#d95f02"/>
<circle cx="265.2" cy="953.7" r="4.25" fill="#7570b3"/>
<circle cx="140" cy="956.5" r="4.25" fill="#d95f02"/>
<circle cx="168.3" cy="957.9" r="4.25" fill="#7570b3"/>
<circle cx="218.4" cy="959.9" r="4.25" fill="#d95f02"/>
<circle cx="213.7" cy="959.7" r="4.25" fill="#7570b3"/>
<circle cx="242.2" cy="959" r="4.25" fill="#7570b3"/>
<circle cx="271.6" cy="960.1" r="4.25" fill="#d95f02"/>
<circle cx="184.1" cy="964.5" r="4.25" fill="#d95f02"/>
<circle cx="188.1" cy="963.9" r="4.25" fill="#1b9e77"/>
<circle cx="220.2" cy="967.9" r="4.25" fill="#d95f02"/>
<circle cx="261.6" cy="967.4" r="4.25" fill="#7570b3"/>
<path transform="translate(131.1,968.1)" d="M-4.3,-8.7 0,-4.3 4.3,-8.7 8.7,-4.3 4.3,0 8.7,4.3 4.3,8.7 0,4.3 -4.3,8.7 -8.7,4.3 -4.3,0 -8.7,-4.3Z" fill="#d95f02"/>
<circle cx="132.2" cy="965.4" r="4.25" fill="#d95f02"/>
<circle cx="127.7" cy="973.7" r="4.25" fill="#7570b3"/>
<circle cx="129.7" cy="970.1" r="4.25" fill="#7570b3"/>
<circle cx="281.4" cy="973.9" r="4.25" fill="#7570b3"/>
<circle cx="270" cy="982.2" r="4.25" fill="#7570b3"/>
<circle cx="282.7" cy="989.1" r="4.25" fill="#7570b3"/>
<circle cx="289.6" cy="1005.1" r="4.25" fill="#7570b3"/>
<circle cx="299.2" cy="1004.2" r="4.25" fill="#7570b3"/>
<circle cx="293.7" cy="1000.9" r="4.25" fill="#1b9e77"/>
<circle cx="301.4" cy="1012" r="4.25" fill="#7570b3"/>
<circle cx="306.8" cy="921.6" r="4.25" fill="#d95f02"/>
<circle cx="323.9" cy="936.7" r="4.25" fill="#1b9e77"/>
<circle cx="317.9" cy="946.1" r="4.25" fill="#1b9e77"/>
<circle cx="360.4" cy="953" r="4.25" fill="#1b9e77"/>
<circle cx="336.2" cy="957.6" r="4.25" fill="#1b9e77"/>
<circle cx="339.1" cy="965.2" r="4.25" fill="#1b9e77"/>
<circle cx="352" cy="965.2" r="4.25" fill="#1b9e77"/>
<circle cx="352" cy="960.3" r="4.25" fill="#1b9e77"/>
<circle cx="371.3" cy="963.2" r="4.25" fill="#1b9e77"/>
<circle cx="373.8" cy="957.9" r="4.25" fill="#1b9e77"/>
<circle cx="375.6" cy="966.6" r="4.25" fill="#1b9e77"/>
<circle cx="396.1" cy="951.7" r="4.25" fill="#7570b3"/>
<circle cx="387.4" cy="960.1" r="4.25" fill="#7570b3"/>
<circle cx="392.3" cy="965.4" r="4.25" fill="#7570b3"/>
<circle cx="416.8" cy="959.9" r="4.25" fill="#7570b3"/>
<circle cx="403.2" cy="975.9" r="4.25" fill="#7570b3"/>
<circle cx="396.8" cy="986.8" r="4.25" fill="#d95f02"/>
<circle cx="430.1" cy="919.6" r="4.25" fill="#1b9e77"/>
<circle cx="446.9" cy="921.4" r="4.25" fill="#7570b3"/>
<circle cx="448.9" cy="932" r="4.25" fill="#7570b3"/>
<circle cx="447.7" cy="926.9" r="4.25" fill="#7570b3"/>
<circle cx="456.2" cy="936" r="4.25" fill="#7570b3"/>
<circle cx="469.8" cy="939" r="4.25" fill="#1b9e77"/>
<circle cx="461.8" cy="941.6" r="4.25" fill="#7570b3"/>
<circle cx="466.9" cy="936.5" r="4.25" fill="#7570b3"/>
<circle cx="443.9" cy="946.3" r="4.25" fill="#7570b3"/>
<circle cx="462" cy="957" r="4.25" fill="#7570b3"/>
<circle cx="478.9" cy="965.5" r="4.25" fill="#d95f02"/>
<circle cx="483.8" cy="981.2" r="4.25" fill="#d95f02"/>
<circle cx="427.9" cy="979.7" r="4.25" fill="#7570b3"/>
<circle cx="423.9" cy="985" r="4.25" fill="#d95f02"/>
<circle cx="443.9" cy="989.7" r="4.25" fill="#7570b3"/>
<circle cx="450.9" cy="989.9" r="4.25" fill="#d95f02"/>
<circle cx="465.8" cy="987.5" r="4.25" fill="#7570b3"/>
<circle cx="461.7" cy="985.9" r="4.25" fill="#7570b3"/>
<circle cx="480.2" cy="997.5" r="4.25" fill="#d95f02"/>
<circle cx="482.5" cy="1005.1" r="4.25" fill="#1b9e77"/>
<circle cx="426.6" cy="996.9" r="4.25" fill="#7570b3"/>
<circle cx="414.1" cy="1000.6" r="4.25" fill="#7570b3"/>
<rect x="433.5" y="999.1" width="12" height="12" fill="#d95f02"/>
<circle cx="445.1" cy="1006.7" r="4.25" fill="#d95f02"/>
<circle cx="462.9" cy="1002" r="4.25" fill="#7570b3"/>
<circle cx="467.1" cy="1007.5" r="4.25" fill="#7570b3"/>
<circle cx="467.6" cy="1003.5" r="4.25" fill="#7570b3"/>
<circle cx="460.2" cy="1014.2" r="4.25" fill="#7570b3"/>
<circle cx="420.4" cy="1023.6" r="4.25" fill="#7570b3"/>
<circle cx="418.4" cy="1034.3" r="4.25" fill="#d95f02"/>
<circle cx="420.6" cy="1031.8" r="4.25" fill="#d95f02"/>
<circle cx="417.7" cy="1044.5" r="4.25" fill="#1b9e77"/>
<circle cx="431.5" cy="1048.3" r="4.25" fill="#1b9e77"/>
<circle cx="432.4" cy="1052.7" r="4.25" fill="#1b9e77"/>
<circle cx="453.8" cy="1046.7" r="4.25" fill="#1b9e77"/>
<circle cx="451.7" cy="1049.6" r="4.25" fill="#1b9e77"/>
<circle cx="449.5" cy="1053.6" r="4.25" fill="#1b9e77"/>
</g>
</g>
<g id="p5">
<g class="ax">
<path d="M645.8,643 V1072.6 H1055.5"/>
<path d="M645.8,686.7 h-8.5M645.8,749.8 h-8.5M645.8,812.9 h-8.5M645.8,876 h-8.5M645.8,939 h-8.5M645.8,1002.1 h-8.5M645.8,1065.2 h-8.5M702.3,1072.6 v8.5M778.8,1072.6 v8.5M855.2,1072.6 v8.5M931.7,1072.6 v8.5M1008.2,1072.6 v8.5"/>
</g>
<g class="tk" text-anchor="end">
<text transform="translate(633.3,695) scale(0.865,1)">1.0</text>
<text transform="translate(633.3,758.1) scale(0.865,1)">0.5</text>
<text transform="translate(633.3,821.2) scale(0.865,1)">0.0</text>
<text transform="translate(633.3,884.2) scale(0.865,1)">−0.5</text>
<text transform="translate(633.3,947.3) scale(0.865,1)">−1.0</text>
<text transform="translate(633.3,1010.4) scale(0.865,1)">−1.5</text>
<text transform="translate(633.3,1073.5) scale(0.865,1)">−2.0</text>
</g>
<g class="tk" text-anchor="middle">
<text transform="translate(702.7,1100.6) scale(0.865,1)">−5</text>
<text transform="translate(779.2,1100.6) scale(0.865,1)">−4</text>
<text transform="translate(855.6,1100.6) scale(0.865,1)">−3</text>
<text transform="translate(932.1,1100.6) scale(0.865,1)">−2</text>
<text transform="translate(1008.6,1100.6) scale(0.865,1)">−1</text>
</g>
<text class="al" text-anchor="middle" x="850.6" y="1143.4">d1</text>
<text class="al a2" text-anchor="middle" transform="translate(579,869) rotate(-90)">d2</text>
<text class="cap" text-anchor="middle" x="849.3" y="1200">(v)</text>
<g class="pt">
<circle cx="763.8" cy="670.8" r="4.25" fill="#d95f02"/>
<circle cx="719.9" cy="681.5" r="4.25" fill="#d95f02"/>
<circle cx="725.9" cy="687.8" r="4.25" fill="#d95f02"/>
<circle cx="848" cy="687.6" r="4.25" fill="#d95f02"/>
<circle cx="703.2" cy="702.5" r="4.25" fill="#d95f02"/>
<circle cx="788.7" cy="700" r="4.25" fill="#1b9e77"/>
<circle cx="812.8" cy="700" r="4.25" fill="#7570b3"/>
<circle cx="822.1" cy="694.5" r="4.25" fill="#7570b3"/>
<circle cx="684.7" cy="723.6" r="4.25" fill="#7570b3"/>
<circle cx="752" cy="729" r="4.25" fill="#d95f02"/>
<circle cx="773.1" cy="731.2" r="4.25" fill="#d95f02"/>
<circle cx="722.2" cy="737.4" r="4.25" fill="#7570b3"/>
<circle cx="678.7" cy="742.3" r="4.25" fill="#7570b3"/>
<circle cx="699.7" cy="745" r="4.25" fill="#7570b3"/>
<circle cx="767.6" cy="747.5" r="4.25" fill="#1b9e77"/>
<circle cx="685.2" cy="753.3" r="4.25" fill="#d95f02"/>
<circle cx="679.4" cy="763.2" r="4.25" fill="#d95f02"/>
<path transform="translate(664.1,763.5)" d="M-4.3,-8.7 0,-4.3 4.3,-8.7 8.7,-4.3 4.3,0 8.7,4.3 4.3,8.7 0,4.3 -4.3,8.7 -8.7,4.3 -4.3,0 -8.7,-4.3Z" fill="#d95f02"/>
<path transform="translate(732,759.9)" d="M-4.3,-8.7 0,-4.3 4.3,-8.7 8.7,-4.3 4.3,0 8.7,4.3 4.3,8.7 0,4.3 -4.3,8.7 -8.7,4.3 -4.3,0 -8.7,-4.3Z" fill="#d95f02"/>
<circle cx="740.9" cy="768.4" r="4.25" fill="#7570b3"/>
<circle cx="848.2" cy="762.4" r="4.25" fill="#1b9e77"/>
<circle cx="827.1" cy="766.6" r="4.25" fill="#1b9e77"/>
<circle cx="850.2" cy="770.2" r="4.25" fill="#d95f02"/>
<circle cx="815.3" cy="772.8" r="4.25" fill="#1b9e77"/>
<circle cx="771.8" cy="774.4" r="4.25" fill="#1b9e77"/>
<circle cx="785.9" cy="781.3" r="4.25" fill="#1b9e77"/>
<circle cx="724" cy="786.6" r="4.25" fill="#d95f02"/>
<circle cx="841.5" cy="788" r="4.25" fill="#1b9e77"/>
<circle cx="826.4" cy="793.6" r="4.25" fill="#d95f02"/>
<circle cx="737.8" cy="801.3" r="4.25" fill="#7570b3"/>
<circle cx="844.4" cy="804.2" r="4.25" fill="#1b9e77"/>
<circle cx="795.7" cy="807.4" r="4.25" fill="#1b9e77"/>
<circle cx="762.3" cy="812.5" r="4.25" fill="#1b9e77"/>
<circle cx="694.5" cy="817.4" r="4.25" fill="#d95f02"/>
<circle cx="764.5" cy="821.6" r="4.25" fill="#7570b3"/>
<circle cx="728" cy="828.7" r="4.25" fill="#d95f02"/>
<circle cx="855.6" cy="833" r="4.25" fill="#7570b3"/>
<circle cx="833.7" cy="835.6" r="4.25" fill="#d95f02"/>
<circle cx="773.8" cy="839.6" r="4.25" fill="#1b9e77"/>
<circle cx="810.6" cy="842.1" r="4.25" fill="#1b9e77"/>
<circle cx="837.5" cy="843.6" r="4.25" fill="#1b9e77"/>
<circle cx="779" cy="845" r="4.25" fill="#7570b3"/>
<circle cx="805" cy="849.6" r="4.25" fill="#d95f02"/>
<circle cx="758" cy="852.3" r="4.25" fill="#7570b3"/>
<circle cx="743.3" cy="854.6" r="4.25" fill="#d95f02"/>
<circle cx="873.6" cy="663.5" r="4.25" fill="#d95f02"/>
<circle cx="930.8" cy="694.5" r="4.25" fill="#1b9e77"/>
<circle cx="879.1" cy="707.4" r="4.25" fill="#d95f02"/>
<circle cx="937" cy="713.6" r="4.25" fill="#1b9e77"/>
<circle cx="870.5" cy="736.8" r="4.25" fill="#7570b3"/>
<circle cx="880.5" cy="750.1" r="4.25" fill="#1b9e77"/>
<circle cx="989.2" cy="743.7" r="4.25" fill="#7570b3"/>
<circle cx="1007.4" cy="744.3" r="4.25" fill="#7570b3"/>
<circle cx="934.6" cy="753.2" r="4.25" fill="#7570b3"/>
<circle cx="1015.4" cy="758.6" r="4.25" fill="#7570b3"/>
<circle cx="1033.3" cy="757.9" r="4.25" fill="#7570b3"/>
<circle cx="906.8" cy="766.6" r="4.25" fill="#7570b3"/>
<circle cx="1036.8" cy="775.1" r="4.25" fill="#7570b3"/>
<circle cx="921.9" cy="784" r="4.25" fill="#7570b3"/>
<circle cx="947.5" cy="791.5" r="4.25" fill="#7570b3"/>
<circle cx="917.4" cy="797.1" r="4.25" fill="#d95f02"/>
<circle cx="871.8" cy="798.4" r="4.25" fill="#d95f02"/>
<circle cx="898.8" cy="801.3" r="4.25" fill="#7570b3"/>
<circle cx="1011" cy="798.5" r="4.25" fill="#7570b3"/>
<circle cx="871.6" cy="814.7" r="4.25" fill="#d95f02"/>
<circle cx="1007.8" cy="814" r="4.25" fill="#7570b3"/>
<circle cx="974.4" cy="818.5" r="4.25" fill="#7570b3"/>
<circle cx="986.7" cy="822.7" r="4.25" fill="#7570b3"/>
<circle cx="911.6" cy="827.6" r="4.25" fill="#1b9e77"/>
<circle cx="927.5" cy="832.7" r="4.25" fill="#d95f02"/>
<circle cx="981.3" cy="842.1" r="4.25" fill="#7570b3"/>
<circle cx="988.9" cy="847" r="4.25" fill="#7570b3"/>
<circle cx="893" cy="851" r="4.25" fill="#7570b3"/>
<circle cx="918.6" cy="851" r="4.25" fill="#1b9e77"/>
<circle cx="940" cy="852.5" r="4.25" fill="#d95f02"/>
<circle cx="995.8" cy="852.8" r="4.25" fill="#7570b3"/>
<circle cx="697" cy="872.2" r="4.25" fill="#d95f02"/>
<circle cx="789.4" cy="868.5" r="4.25" fill="#d95f02"/>
<circle cx="817.2" cy="873.6" r="4.25" fill="#1b9e77"/>
<circle cx="844.4" cy="886.1" r="4.25" fill="#1b9e77"/>
<circle cx="848" cy="892.9" r="4.25" fill="#7570b3"/>
<circle cx="780.1" cy="898.3" r="4.25" fill="#1b9e77"/>
<circle cx="835.7" cy="903.6" r="4.25" fill="#7570b3"/>
<circle cx="690.8" cy="904.3" r="4.25" fill="#d95f02"/>
<circle cx="701.9" cy="908.6" r="4.25" fill="#d95f02"/>
<circle cx="715.9" cy="906.5" r="4.25" fill="#d95f02"/>
<circle cx="754.2" cy="905.4" r="4.25" fill="#d95f02"/>
<circle cx="744" cy="913.2" r="4.25" fill="#1b9e77"/>
<circle cx="796.1" cy="915.9" r="4.25" fill="#d95f02"/>
<circle cx="788.5" cy="925.7" r="4.25" fill="#1b9e77"/>
<circle cx="729.3" cy="934.1" r="4.25" fill="#1b9e77"/>
<circle cx="831.7" cy="935.9" r="4.25" fill="#d95f02"/>
<circle cx="770.3" cy="944.6" r="4.25" fill="#1b9e77"/>
<circle cx="808.1" cy="945.3" r="4.25" fill="#7570b3"/>
<circle cx="810.3" cy="952" r="4.25" fill="#1b9e77"/>
<circle cx="748.4" cy="957.1" r="4.25" fill="#1b9e77"/>
<circle cx="730.6" cy="962.4" r="4.25" fill="#1b9e77"/>
<circle cx="836" cy="959.1" r="4.25" fill="#7570b3"/>
<circle cx="770.9" cy="973.1" r="4.25" fill="#1b9e77"/>
<circle cx="853.6" cy="976.2" r="4.25" fill="#7570b3"/>
<circle cx="757.6" cy="987.6" r="4.25" fill="#1b9e77"/>
<circle cx="741.7" cy="995.4" r="4.25" fill="#1b9e77"/>
<circle cx="784.9" cy="992.7" r="4.25" fill="#1b9e77"/>
<circle cx="839.5" cy="992" r="4.25" fill="#7570b3"/>
<circle cx="809.2" cy="997.4" r="4.25" fill="#1b9e77"/>
<circle cx="832" cy="1011" r="4.25" fill="#7570b3"/>
<circle cx="826.8" cy="1053.5" r="4.25" fill="#1b9e77"/>
<circle cx="863.3" cy="869.1" r="4.25" fill="#7570b3"/>
<circle cx="877.4" cy="869.4" r="4.25" fill="#7570b3"/>
<circle cx="901" cy="869.4" r="4.25" fill="#7570b3"/>
<circle cx="885.4" cy="883.1" r="4.25" fill="#1b9e77"/>
<circle cx="963.1" cy="879.6" r="4.25" fill="#7570b3"/>
<circle cx="1012.3" cy="874.5" r="4.25" fill="#7570b3"/>
<circle cx="939.3" cy="892.9" r="4.25" fill="#1b9e77"/>
<circle cx="952.4" cy="899.9" r="4.25" fill="#d95f02"/>
<circle cx="993.4" cy="910.1" r="4.25" fill="#7570b3"/>
<circle cx="984.7" cy="921.9" r="4.25" fill="#d95f02"/>
<circle cx="882" cy="919.7" r="4.25" fill="#1b9e77"/>
<circle cx="896.1" cy="925" r="4.25" fill="#1b9e77"/>
<circle cx="919.9" cy="930.6" r="4.25" fill="#1b9e77"/>
<circle cx="948.8" cy="929.2" r="4.25" fill="#1b9e77"/>
<circle cx="866.4" cy="931.7" r="4.25" fill="#7570b3"/>
<circle cx="1034.8" cy="932.1" r="4.25" fill="#d95f02"/>
<circle cx="1021.2" cy="936.1" r="4.25" fill="#d95f02"/>
<circle cx="937.1" cy="944.8" r="4.25" fill="#d95f02"/>
<circle cx="890.5" cy="948.2" r="4.25" fill="#d95f02"/>
<circle cx="1006.3" cy="948.6" r="4.25" fill="#d95f02"/>
<rect x="990.1" y="951.1" width="12" height="12" fill="#d95f02"/>
<circle cx="1023.7" cy="958.9" r="4.25" fill="#d95f02"/>
<circle cx="1034.8" cy="969.8" r="4.25" fill="#d95f02"/>
<circle cx="903.2" cy="968.7" r="4.25" fill="#1b9e77"/>
<circle cx="981.8" cy="984.5" r="4.25" fill="#1b9e77"/>
<circle cx="907.4" cy="989.2" r="4.25" fill="#d95f02"/>
<circle cx="882.5" cy="996.9" r="4.25" fill="#1b9e77"/>
<circle cx="898.7" cy="1039.9" r="4.25" fill="#1b9e77"/>
</g>
</g>
<g id="p6">
<g class="ax">
<path d="M1186.3,644.2 V1072.6 H1596.5"/>
<path d="M1186.3,644.2 h-8.5M1186.3,723.5 h-8.5M1186.3,802.7 h-8.5M1186.3,882 h-8.5M1186.3,961.2 h-8.5M1186.3,1040.5 h-8.5M1193.4,1072.6 v8.5M1281.2,1072.6 v8.5M1368.9,1072.6 v8.5M1456.7,1072.6 v8.5M1544.4,1072.6 v8.5"/>
</g>
<g class="tk" text-anchor="end">
<text transform="translate(1173.8,652.5) scale(0.85,1)">15</text>
<text transform="translate(1173.8,731.8) scale(0.85,1)">14</text>
<text transform="translate(1173.8,811) scale(0.85,1)">13</text>
<text transform="translate(1173.8,890.3) scale(0.85,1)">12</text>
<text transform="translate(1173.8,969.5) scale(0.85,1)">11</text>
<text transform="translate(1173.8,1048.8) scale(0.85,1)">10</text>
</g>
<g class="tk" text-anchor="middle">
<text transform="translate(1193.8,1100.6) scale(0.85,1)">5</text>
<text transform="translate(1281.6,1100.6) scale(0.85,1)">6</text>
<text transform="translate(1369.3,1100.6) scale(0.85,1)">7</text>
<text transform="translate(1457.1,1100.6) scale(0.85,1)">8</text>
<text transform="translate(1544.8,1100.6) scale(0.85,1)">9</text>
</g>
<text class="al" text-anchor="middle" x="1406.7" y="1143.4">d1</text>
<text class="al a2" text-anchor="middle" transform="translate(1137,859.5) rotate(-90)">d2</text>
<text class="cap" text-anchor="middle" x="1405.9" y="1200">(vi)</text>
<g class="pt">
<circle cx="1397.3" cy="703.4" r="4.25" fill="#1b9e77"/>
<circle cx="1387.5" cy="717.6" r="4.25" fill="#1b9e77"/>
<circle cx="1398.7" cy="724.5" r="4.25" fill="#1b9e77"/>
<circle cx="1352.6" cy="725.6" r="4.25" fill="#1b9e77"/>
<circle cx="1361.9" cy="736.8" r="4.25" fill="#1b9e77"/>
<circle cx="1394.2" cy="739.9" r="4.25" fill="#1b9e77"/>
<circle cx="1377.3" cy="751.4" r="4.25" fill="#1b9e77"/>
<circle cx="1326.3" cy="765.7" r="4.25" fill="#1b9e77"/>
<circle cx="1343" cy="769" r="4.25" fill="#7570b3"/>
<circle cx="1399.1" cy="769.5" r="4.25" fill="#1b9e77"/>
<circle cx="1296.9" cy="784.8" r="4.25" fill="#1b9e77"/>
<circle cx="1381.8" cy="784.2" r="4.25" fill="#7570b3"/>
<circle cx="1385.8" cy="804.5" r="4.25" fill="#d95f02"/>
<circle cx="1359.7" cy="806.5" r="4.25" fill="#7570b3"/>
<circle cx="1331.2" cy="817.6" r="4.25" fill="#1b9e77"/>
<circle cx="1316.3" cy="818.7" r="4.25" fill="#1b9e77"/>
<circle cx="1294.5" cy="822" r="4.25" fill="#1b9e77"/>
<circle cx="1303.8" cy="832.1" r="4.25" fill="#1b9e77"/>
<circle cx="1387.7" cy="826.9" r="4.25" fill="#d95f02"/>
<circle cx="1371.5" cy="828.7" r="4.25" fill="#1b9e77"/>
<circle cx="1357.2" cy="831.2" r="4.25" fill="#7570b3"/>
<circle cx="1335.4" cy="837.6" r="4.25" fill="#7570b3"/>
<circle cx="1297.1" cy="850.5" r="4.25" fill="#1b9e77"/>
<circle cx="1381.8" cy="852.3" r="4.25" fill="#1b9e77"/>
<circle cx="1551.7" cy="663.3" r="4.25" fill="#7570b3"/>
<circle cx="1549.2" cy="673.7" r="4.25" fill="#7570b3"/>
<path transform="translate(1553.6,688.9)" d="M-4.3,-8.7 0,-4.3 4.3,-8.7 8.7,-4.3 4.3,0 8.7,4.3 4.3,8.7 0,4.3 -4.3,8.7 -8.7,4.3 -4.3,0 -8.7,-4.3Z" fill="#d95f02"/>
<circle cx="1562.1" cy="681.8" r="4.25" fill="#7570b3"/>
<circle cx="1518.3" cy="690" r="4.25" fill="#7570b3"/>
<circle cx="1531.8" cy="702.5" r="4.25" fill="#d95f02"/>
<path transform="translate(1491.1,708.3)" d="M-4.3,-8.7 0,-4.3 4.3,-8.7 8.7,-4.3 4.3,0 8.7,4.3 4.3,8.7 0,4.3 -4.3,8.7 -8.7,4.3 -4.3,0 -8.7,-4.3Z" fill="#d95f02"/>
<circle cx="1505.6" cy="714.3" r="4.25" fill="#d95f02"/>
<circle cx="1542.9" cy="718.3" r="4.25" fill="#d95f02"/>
<circle cx="1552.1" cy="722.5" r="4.25" fill="#7570b3"/>
<circle cx="1465.2" cy="722.1" r="4.25" fill="#d95f02"/>
<circle cx="1502.9" cy="724.9" r="4.25" fill="#7570b3"/>
<circle cx="1533.4" cy="726.7" r="4.25" fill="#d95f02"/>
<circle cx="1471.5" cy="727.8" r="4.25" fill="#d95f02"/>
<circle cx="1442.3" cy="732.3" r="4.25" fill="#1b9e77"/>
<circle cx="1409.4" cy="735.4" r="4.25" fill="#1b9e77"/>
<circle cx="1451.6" cy="745.2" r="4.25" fill="#d95f02"/>
<circle cx="1516.5" cy="745.2" r="4.25" fill="#d95f02"/>
<circle cx="1459" cy="758.4" r="4.25" fill="#7570b3"/>
<circle cx="1483.9" cy="760.8" r="4.25" fill="#7570b3"/>
<circle cx="1577.5" cy="760.2" r="4.25" fill="#d95f02"/>
<circle cx="1404.9" cy="762.4" r="4.25" fill="#1b9e77"/>
<circle cx="1430.5" cy="762.2" r="4.25" fill="#1b9e77"/>
<circle cx="1417.8" cy="773" r="4.25" fill="#7570b3"/>
<circle cx="1496.6" cy="774.2" r="4.25" fill="#d95f02"/>
<circle cx="1448.6" cy="779.5" r="4.25" fill="#1b9e77"/>
<circle cx="1569.2" cy="788.2" r="4.25" fill="#d95f02"/>
<circle cx="1471.9" cy="789.8" r="4.25" fill="#1b9e77"/>
<circle cx="1514.7" cy="793.1" r="4.25" fill="#d95f02"/>
<circle cx="1447.2" cy="793.8" r="4.25" fill="#1b9e77"/>
<circle cx="1447.6" cy="796.7" r="4.25" fill="#7570b3"/>
<circle cx="1413.8" cy="798.2" r="4.25" fill="#d95f02"/>
<circle cx="1404.5" cy="800.2" r="4.25" fill="#7570b3"/>
<circle cx="1519.1" cy="805.3" r="4.25" fill="#d95f02"/>
<circle cx="1537.4" cy="814.3" r="4.25" fill="#d95f02"/>
<circle cx="1554.7" cy="814.5" r="4.25" fill="#d95f02"/>
<circle cx="1415.1" cy="816.3" r="4.25" fill="#7570b3"/>
<circle cx="1482" cy="818" r="4.25" fill="#1b9e77"/>
<circle cx="1444.8" cy="820.1" r="4.25" fill="#1b9e77"/>
<circle cx="1467.7" cy="831" r="4.25" fill="#1b9e77"/>
<circle cx="1467.2" cy="826" r="4.25" fill="#1b9e77"/>
<circle cx="1557.9" cy="835" r="4.25" fill="#d95f02"/>
<circle cx="1507.1" cy="837.8" r="4.25" fill="#1b9e77"/>
<circle cx="1407.4" cy="836.5" r="4.25" fill="#1b9e77"/>
<circle cx="1422.5" cy="844.8" r="4.25" fill="#1b9e77"/>
<circle cx="1435.4" cy="846.7" r="4.25" fill="#d95f02"/>
<circle cx="1410.3" cy="850.1" r="4.25" fill="#1b9e77"/>
<circle cx="1499.7" cy="851.9" r="4.25" fill="#d95f02"/>
<circle cx="1378" cy="865.6" r="4.25" fill="#d95f02"/>
<circle cx="1363.9" cy="868.3" r="4.25" fill="#1b9e77"/>
<circle cx="1311.2" cy="870.9" r="4.25" fill="#1b9e77"/>
<circle cx="1335" cy="872.5" r="4.25" fill="#7570b3"/>
<circle cx="1353" cy="878.3" r="4.25" fill="#d95f02"/>
<circle cx="1349.5" cy="885.4" r="4.25" fill="#7570b3"/>
<circle cx="1384.6" cy="888.7" r="4.25" fill="#7570b3"/>
<circle cx="1378" cy="905.5" r="4.25" fill="#d95f02"/>
<circle cx="1252.6" cy="925.9" r="4.25" fill="#7570b3"/>
<circle cx="1383.5" cy="929.3" r="4.25" fill="#7570b3"/>
<circle cx="1376.8" cy="938.4" r="4.25" fill="#7570b3"/>
<circle cx="1359.3" cy="941.8" r="4.25" fill="#7570b3"/>
<circle cx="1236.3" cy="949.1" r="4.25" fill="#7570b3"/>
<circle cx="1231.9" cy="948.6" r="4.25" fill="#7570b3"/>
<circle cx="1325.8" cy="959.1" r="4.25" fill="#d95f02"/>
<circle cx="1329.8" cy="969.3" r="4.25" fill="#1b9e77"/>
<circle cx="1205" cy="969.8" r="4.25" fill="#7570b3"/>
<circle cx="1226.8" cy="970.9" r="4.25" fill="#7570b3"/>
<circle cx="1206" cy="988" r="4.25" fill="#7570b3"/>
<circle cx="1233" cy="995.2" r="4.25" fill="#7570b3"/>
<rect x="1285.1" y="989.2" width="12" height="12" fill="#d95f02"/>
<circle cx="1342.3" cy="995.9" r="4.25" fill="#1b9e77"/>
<circle cx="1267.5" cy="999.6" r="4.25" fill="#7570b3"/>
<circle cx="1206.1" cy="1011.6" r="4.25" fill="#7570b3"/>
<circle cx="1289.5" cy="1012.1" r="4.25" fill="#d95f02"/>
<circle cx="1294.5" cy="1009" r="4.25" fill="#d95f02"/>
<circle cx="1293.4" cy="1017.9" r="4.25" fill="#d95f02"/>
<circle cx="1300.5" cy="1021.4" r="4.25" fill="#d95f02"/>
<circle cx="1278.7" cy="1023.2" r="4.25" fill="#d95f02"/>
<circle cx="1220.5" cy="1025.9" r="4.25" fill="#7570b3"/>
<circle cx="1252.1" cy="1025.7" r="4.25" fill="#7570b3"/>
<circle cx="1257.1" cy="1024.3" r="4.25" fill="#7570b3"/>
<circle cx="1329.4" cy="1037.3" r="4.25" fill="#d95f02"/>
<circle cx="1324.9" cy="1038.2" r="4.25" fill="#7570b3"/>
<circle cx="1245.5" cy="1038.1" r="4.25" fill="#7570b3"/>
<circle cx="1247" cy="1046.6" r="4.25" fill="#7570b3"/>
<circle cx="1285.8" cy="1053.5" r="4.25" fill="#7570b3"/>
<circle cx="1411.8" cy="858.5" r="4.25" fill="#d95f02"/>
<circle cx="1447.6" cy="856.9" r="4.25" fill="#d95f02"/>
<circle cx="1487.7" cy="862.2" r="4.25" fill="#1b9e77"/>
<circle cx="1479.9" cy="869.6" r="4.25" fill="#d95f02"/>
<circle cx="1538.3" cy="865.6" r="4.25" fill="#d95f02"/>
<circle cx="1526.3" cy="874.3" r="4.25" fill="#d95f02"/>
<circle cx="1521.1" cy="873.4" r="4.25" fill="#1b9e77"/>
<circle cx="1413.6" cy="879.4" r="4.25" fill="#7570b3"/>
<circle cx="1494.2" cy="882.5" r="4.25" fill="#d95f02"/>
<circle cx="1548.1" cy="883.9" r="4.25" fill="#d95f02"/>
<circle cx="1494" cy="891" r="4.25" fill="#d95f02"/>
<circle cx="1440.5" cy="899.9" r="4.25" fill="#1b9e77"/>
<circle cx="1449.4" cy="901" r="4.25" fill="#1b9e77"/>
<circle cx="1485.5" cy="900.5" r="4.25" fill="#1b9e77"/>
<circle cx="1416" cy="900.5" r="4.25" fill="#7570b3"/>
<circle cx="1402.7" cy="903.2" r="4.25" fill="#7570b3"/>
<circle cx="1455.2" cy="912.1" r="4.25" fill="#d95f02"/>
<circle cx="1533.8" cy="917.7" r="4.25" fill="#1b9e77"/>
<circle cx="1540.3" cy="912.8" r="4.25" fill="#1b9e77"/>
<circle cx="1536.7" cy="915.7" r="4.25" fill="#1b9e77"/>
<circle cx="1409.4" cy="929.1" r="4.25" fill="#7570b3"/>
<circle cx="1412.5" cy="923.3" r="4.25" fill="#7570b3"/>
<circle cx="1507.1" cy="941.1" r="4.25" fill="#d95f02"/>
<circle cx="1505.5" cy="935" r="4.25" fill="#1b9e77"/>
<circle cx="1489.1" cy="951.1" r="4.25" fill="#d95f02"/>
<circle cx="1400.4" cy="947.7" r="4.25" fill="#7570b3"/>
</g>
</g>
<g class="lg">
<rect x="1667" y="330" width="75" height="34.5" rx="5" fill="#d95f02"/>
<rect x="1667" y="393.5" width="75" height="34.5" rx="5" fill="#7570b3"/>
<rect x="1667" y="457" width="75" height="34.5" rx="5" fill="#1b9e77"/>
<text class="b" font-size="31" letter-spacing="0.38" x="1769.6" y="358.9">Benign</text>
<text class="b" font-size="31" letter-spacing="0.65" x="1769.6" y="423.1">Early Cancer</text>
<text class="b" font-size="31" letter-spacing="1.26" x="1771.4" y="486.1">Metastatic</text>
<path transform="translate(1703.3,594.4)" d="M-9.1,-18.2 0,-9.1 9.1,-18.2 18.2,-9.1 9.1,0 18.2,9.1 9.1,18.2 0,9.1 -9.1,18.2 -18.2,9.1 -9.1,0 -18.2,-9.1Z" fill="#3a3a3a"/>
<rect x="1691.6" y="682.7" width="25.6" height="25.4" rx="1.5" fill="#3a3a3a"/>
<text font-size="27.5" x="1763.3" y="586.9"><tspan class="b">True:</tspan><tspan dx="-0.7" letter-spacing="0.44"> Benign</tspan></text>
<text font-size="27.5" x="1763" y="620.6"><tspan class="b">Pred:</tspan><tspan dx="0.3" letter-spacing="0.66"> Metastatic</tspan></text>
<text font-size="27.5" x="1763.3" y="683.8"><tspan class="b">True:</tspan><tspan dx="-0.7" letter-spacing="0.44"> Benign</tspan></text>
<text font-size="27.5" letter-spacing="0.1" x="1763" y="717.5"><tspan class="b">Pred:</tspan> Early Cancer</text>
</g>
<g fill="#bdbdbd"><rect x="522.8" y="877.3" width="2" height="2"/><rect x="522.8" y="940.7" width="2" height="2"/><rect x="522.8" y="1004" width="2" height="2"/><rect x="522.8" y="1067.3" width="2" height="2"/></g>
</svg>
</body></html>
